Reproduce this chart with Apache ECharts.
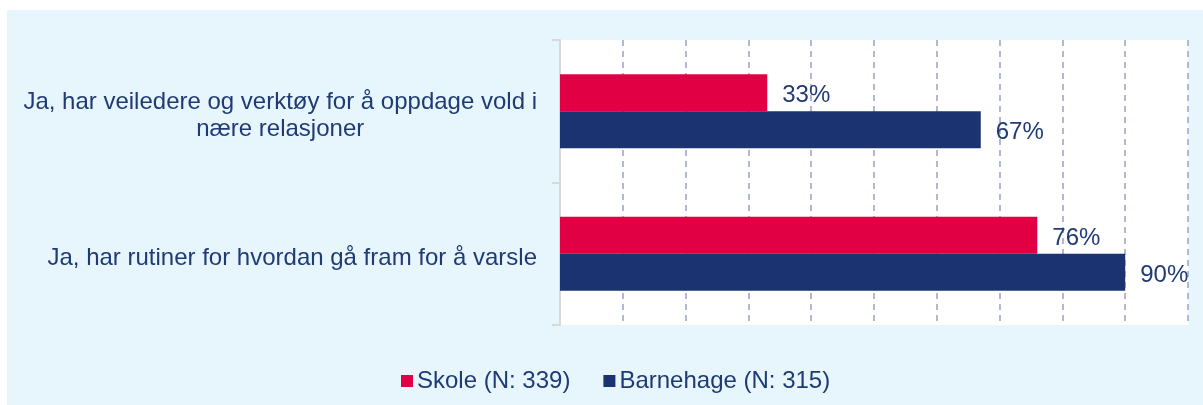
<!DOCTYPE html>
<html>
<head>
<meta charset="utf-8">
<script src="https://cdn.jsdelivr.net/npm/echarts@6/dist/echarts.min.js"></script>
<style>
	html, body { margin: 0; padding: 0; background: #fff; }
	#chart { width: 1203px; height: 405px; }
</style>
</head>
<body>
<div id="chart"></div>
<script>
var CATEGORIES = [
	'Ja, har veiledere og verktøy for å oppdage vold i\nnære relasjoner',
	'Ja, har rutiner for hvordan gå fram for å varsle'
];
var SERIES_NAMES = ['Skole (N: 339)', 'Barnehage (N: 315)'];
var SKOLE = [33, 76];
var BARNEHAGE = [67, 90];
var X_MIN = 0, X_MAX = 100, X_STEP = 10;

var C_RED = '#e10044';
var C_NAVY = '#1b3370';
var C_TEXT = '#1f3a75';
var FONT = '"Liberation Sans", Arial, sans-serif';

function buildSeries(name, data, color) {
	return {
		name: name,
		type: 'bar',
		data: data,
		barWidth: 37,
		barGap: '0%',
		itemStyle: { color: color },
		label: {
			show: true,
			position: 'right',
			distance: 15,
			offset: [0, 3],
			formatter: '{c}%',
			color: C_TEXT,
			fontSize: 24,
			fontFamily: FONT
		}
	};
}

var chart = echarts.init(document.getElementById('chart'));
chart.setOption({
	animation: false,
	textStyle: { fontFamily: FONT },
	graphic: [{
		type: 'rect',
		z: -10,
		shape: { x: 7, y: 10, width: 1196, height: 395 },
		style: { fill: '#e7f6fd' }
	}],
	grid: {
		left: 560,
		right: 15,
		top: 40,
		bottom: 80,
		show: true,
		backgroundColor: '#fff',
		borderWidth: 0
	},
	legend: {
		left: 396,
		top: 364,
		icon: 'rect',
		itemWidth: 12,
		itemHeight: 12,
		itemGap: 33,
		textStyle: { color: C_TEXT, fontSize: 24, fontFamily: FONT, padding: [0, 0, 0, -1] },
		data: SERIES_NAMES
	},
	xAxis: {
		type: 'value',
		min: X_MIN,
		max: X_MAX,
		interval: X_STEP,
		axisLabel: { show: false },
		axisLine: { show: false },
		axisTick: { show: false },
		splitLine: {
			show: true,
			lineStyle: { color: '#a3aec8', width: 1.7, type: [6, 5] }
		}
	},
	yAxis: {
		type: 'category',
		inverse: true,
		data: CATEGORIES,
		axisLine: { show: true, lineStyle: { color: '#d9d9d9', width: 2 } },
		axisTick: { show: true, length: 8, lineStyle: { color: '#d9d9d9', width: 2 } },
		axisLabel: {
			margin: 23,
			align: 'right',
			padding: [10, 0, 0, 0],
			formatter: function (value) {
				return value.split('\n').map(function (s) { return '{c|' + s + '}'; }).join('\n');
			},
			rich: {
				c: {
					align: 'center',
					color: C_TEXT,
					fontSize: 24,
					lineHeight: 27,
					fontFamily: FONT
				}
			}
		}
	},
	series: [
		buildSeries(SERIES_NAMES[0], SKOLE, C_RED),
		buildSeries(SERIES_NAMES[1], BARNEHAGE, C_NAVY)
	]
});
</script>
</body>
</html>
